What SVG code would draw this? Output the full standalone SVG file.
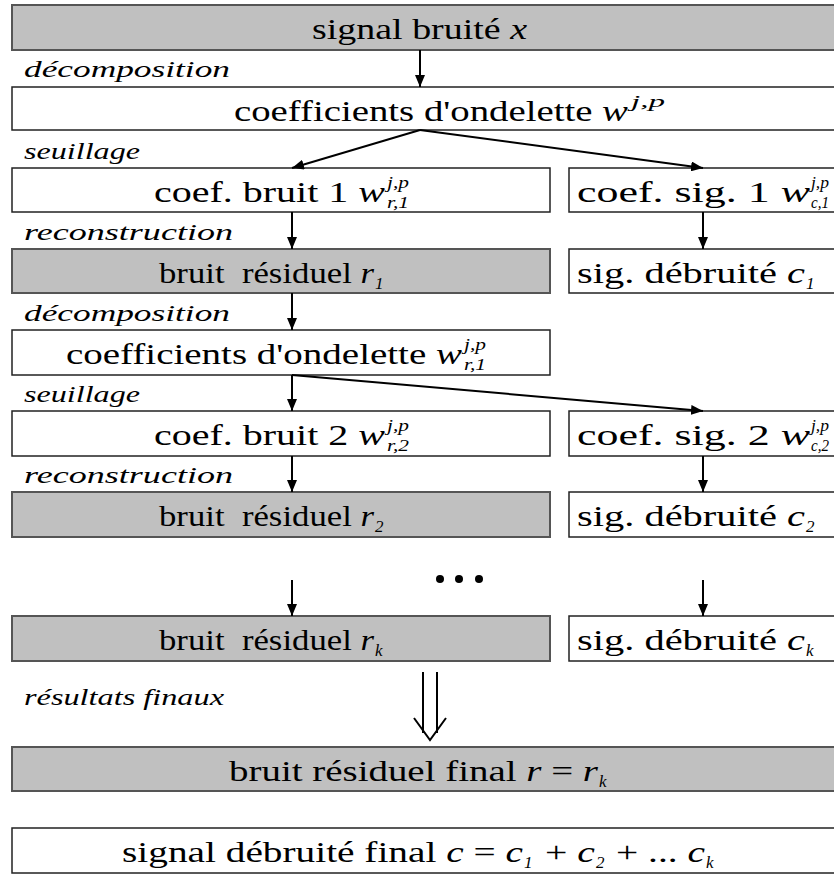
<svg xmlns="http://www.w3.org/2000/svg" width="834" height="875" viewBox="0 0 834 875">
<defs>
<style>
text{font-family:"Liberation Serif","Times New Roman",Tinos,"Nimbus Roman","DejaVu Serif","Noto Serif",serif;fill:#000}
.g{fill:#c0c0c0;stroke:#555;stroke-width:2}
.w{fill:#fff;stroke:#222;stroke-width:1.5}
.t{font-size:30px}
.i{font-style:italic}
.s{font-size:17px;font-style:italic}
.l{font-size:24px;font-style:italic}
.c{stroke:#000;stroke-width:2;fill:none}
</style>
<marker id="ah" viewBox="0 0 12 10" refX="12" refY="5" markerWidth="12" markerHeight="10" markerUnits="userSpaceOnUse" orient="auto"><path d="M0,0 L12,5 L0,10 Z" fill="#000"/></marker>
</defs>
<g id="labels">
<text class="l" x="24" y="77" textLength="206" lengthAdjust="spacingAndGlyphs">décomposition</text>
<text class="l" x="24" y="159" textLength="116" lengthAdjust="spacingAndGlyphs">seuillage</text>
<text class="l" x="24" y="240" textLength="209" lengthAdjust="spacingAndGlyphs">reconstruction</text>
<text class="l" x="24" y="321" textLength="206" lengthAdjust="spacingAndGlyphs">décomposition</text>
<text class="l" x="24" y="402" textLength="116" lengthAdjust="spacingAndGlyphs">seuillage</text>
<text class="l" x="24" y="483" textLength="209" lengthAdjust="spacingAndGlyphs">reconstruction</text>
<text class="l" x="24" y="705" textLength="200" lengthAdjust="spacingAndGlyphs">résultats finaux</text>
</g>
<g id="n0"><rect class="g" x="12" y="5" width="830" height="45"/>
<text class="t" x="312" y="39" textLength="215" lengthAdjust="spacingAndGlyphs">signal bruité <tspan class="i">x</tspan></text></g>
<g id="n1"><rect class="w" x="12" y="87" width="830" height="43"/>
<text class="t" x="234" y="121" textLength="394" lengthAdjust="spacingAndGlyphs">coefficients d'ondelette <tspan class="i">w</tspan></text><text class="s" x="631" y="107" textLength="34" lengthAdjust="spacingAndGlyphs">j,p</text></g>
<g id="n2"><rect class="w" x="12" y="168" width="538" height="44"/>
<text class="t" x="154" y="202" textLength="231" lengthAdjust="spacingAndGlyphs">coef. bruit 1 <tspan class="i">w</tspan></text><text class="s" x="387" y="188" textLength="22" lengthAdjust="spacingAndGlyphs">j,p</text><text class="s" x="387" y="208" textLength="22" lengthAdjust="spacingAndGlyphs">r,1</text></g>
<g id="n3"><rect class="w" x="569" y="168" width="273" height="44"/>
<text class="t" x="577" y="202" textLength="233" lengthAdjust="spacingAndGlyphs">coef. sig. 1 <tspan class="i">w</tspan></text><text class="s" x="811" y="188" textLength="18" lengthAdjust="spacingAndGlyphs">j,p</text><text class="s" x="811" y="208" textLength="18" lengthAdjust="spacingAndGlyphs">c,1</text></g>
<g id="n4"><rect class="g" x="12" y="249" width="538" height="44"/>
<text class="t" x="159" y="283" textLength="215" lengthAdjust="spacingAndGlyphs">bruit&#160; résiduel <tspan class="i">r</tspan></text><text class="s" x="375" y="289">1</text></g>
<g id="n5"><rect class="w" x="569" y="249" width="273" height="44"/>
<text class="t" x="577" y="283" textLength="228" lengthAdjust="spacingAndGlyphs">sig. débruité <tspan class="i">c</tspan></text><text class="s" x="806" y="289">1</text></g>
<g id="n6"><rect class="w" x="12" y="330" width="538" height="45"/>
<text class="t" x="66" y="364" textLength="396" lengthAdjust="spacingAndGlyphs">coefficients d'ondelette <tspan class="i">w</tspan></text><text class="s" x="464" y="350" textLength="22" lengthAdjust="spacingAndGlyphs">j,p</text><text class="s" x="464" y="370" textLength="22" lengthAdjust="spacingAndGlyphs">r,1</text></g>
<g id="n7"><rect class="w" x="12" y="411" width="538" height="45"/>
<text class="t" x="154" y="445" textLength="231" lengthAdjust="spacingAndGlyphs">coef. bruit 2 <tspan class="i">w</tspan></text><text class="s" x="387" y="431" textLength="22" lengthAdjust="spacingAndGlyphs">j,p</text><text class="s" x="387" y="451" textLength="22" lengthAdjust="spacingAndGlyphs">r,2</text></g>
<g id="n8"><rect class="w" x="569" y="411" width="273" height="45"/>
<text class="t" x="577" y="445" textLength="233" lengthAdjust="spacingAndGlyphs">coef. sig. 2 <tspan class="i">w</tspan></text><text class="s" x="811" y="431" textLength="18" lengthAdjust="spacingAndGlyphs">j,p</text><text class="s" x="811" y="451" textLength="18" lengthAdjust="spacingAndGlyphs">c,2</text></g>
<g id="n9"><rect class="g" x="12" y="492" width="538" height="45"/>
<text class="t" x="159" y="526" textLength="215" lengthAdjust="spacingAndGlyphs">bruit&#160; résiduel <tspan class="i">r</tspan></text><text class="s" x="375" y="532">2</text></g>
<g id="n10"><rect class="w" x="569" y="492" width="273" height="45"/>
<text class="t" x="577" y="526" textLength="228" lengthAdjust="spacingAndGlyphs">sig. débruité <tspan class="i">c</tspan></text><text class="s" x="806" y="532">2</text></g>
<g id="dots"><circle cx="440" cy="579" r="4"/><circle cx="459" cy="579" r="4"/><circle cx="479" cy="579" r="4"/></g>
<g id="n11"><rect class="g" x="12" y="616" width="538" height="45"/>
<text class="t" x="159" y="650" textLength="215" lengthAdjust="spacingAndGlyphs">bruit&#160; résiduel <tspan class="i">r</tspan></text><text class="s" x="375" y="656">k</text></g>
<g id="n12"><rect class="w" x="569" y="616" width="273" height="45"/>
<text class="t" x="577" y="650" textLength="228" lengthAdjust="spacingAndGlyphs">sig. débruité <tspan class="i">c</tspan></text><text class="s" x="806" y="656">k</text></g>
<g id="n13"><rect class="g" x="12" y="747" width="830" height="44"/>
<text class="t" x="229" y="781" textLength="369" lengthAdjust="spacingAndGlyphs">bruit résiduel final <tspan class="i">r</tspan> = <tspan class="i">r</tspan></text><text class="s" x="599" y="787">k</text></g>
<g id="n14"><rect class="w" x="12" y="828" width="830" height="45"/>
<text class="t" x="122" y="862" textLength="401" lengthAdjust="spacingAndGlyphs">signal débruité final <tspan class="i">c</tspan> = <tspan class="i">c</tspan></text><text class="s" x="524" y="868">1</text>
<text class="t" x="545" y="862" textLength="50" lengthAdjust="spacingAndGlyphs">+ <tspan class="i">c</tspan></text><text class="s" x="596" y="868">2</text>
<text class="t" x="616" y="862" textLength="89" lengthAdjust="spacingAndGlyphs">+ ... <tspan class="i">c</tspan></text><text class="s" x="706" y="868">k</text></g>
<g id="connectors">
<line class="c" x1="420" y1="50" x2="420" y2="87" marker-end="url(#ah)"/>
<line class="c" x1="420" y1="130" x2="292" y2="168" marker-end="url(#ah)"/>
<line class="c" x1="420" y1="130" x2="703" y2="168" marker-end="url(#ah)"/>
<line class="c" x1="292" y1="212" x2="292" y2="249" marker-end="url(#ah)"/>
<line class="c" x1="703" y1="212" x2="703" y2="249" marker-end="url(#ah)"/>
<line class="c" x1="292" y1="293" x2="292" y2="330" marker-end="url(#ah)"/>
<line class="c" x1="292" y1="375" x2="292" y2="411" marker-end="url(#ah)"/>
<line class="c" x1="292" y1="375" x2="703" y2="411" marker-end="url(#ah)"/>
<line class="c" x1="292" y1="456" x2="292" y2="492" marker-end="url(#ah)"/>
<line class="c" x1="703" y1="456" x2="703" y2="492" marker-end="url(#ah)"/>
<line class="c" x1="292" y1="580" x2="292" y2="616" marker-end="url(#ah)"/>
<line class="c" x1="703" y1="580" x2="703" y2="616" marker-end="url(#ah)"/>
<path d="M423,672 L423,733 M437,672 L437,733 M414,718 L430,740 L446,718" fill="none" stroke="#000" stroke-width="2"/>
</g>
</svg>
